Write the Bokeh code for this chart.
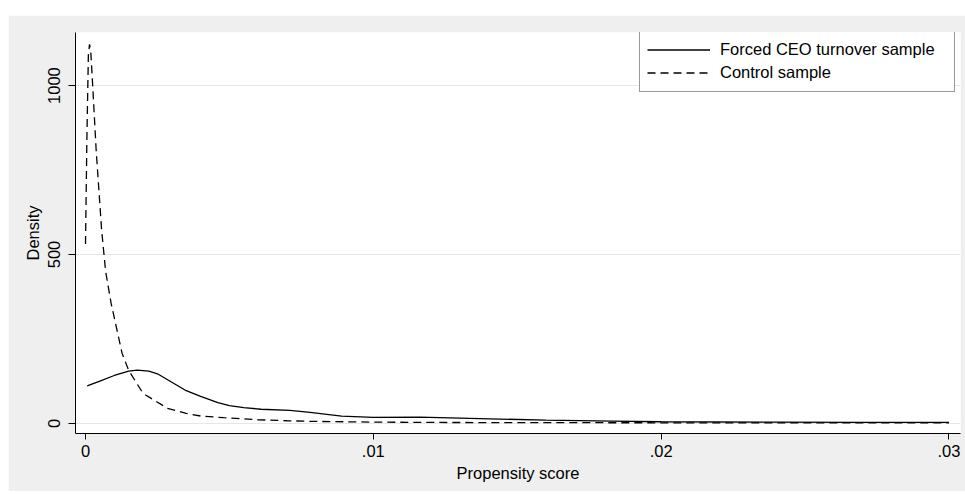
from bokeh.plotting import figure
from bokeh.models import Range1d, FixedTicker, Legend, LegendItem, Spacer
from bokeh.layouts import column, row
from bokeh.embed import file_html
from bokeh.resources import INLINE

# Forced CEO turnover sample (solid)
forced_x = [0.00006, 0.0005, 0.001, 0.0015, 0.0018, 0.0022, 0.0025, 0.003, 0.0035, 0.004,
            0.0046, 0.005, 0.0055, 0.0061, 0.0071, 0.0078, 0.0089, 0.01, 0.0116, 0.013,
            0.0144, 0.016, 0.0183, 0.02, 0.024, 0.027, 0.03]
forced_y = [111, 125, 142, 155, 158, 155, 147, 122, 97, 80,
            62, 53, 47, 42, 39, 33, 22, 18, 19, 16,
            13, 10, 7, 5, 4, 3, 3]

# Control sample (dashed)
control_x = [0.0, 0.00005, 0.0001, 0.00014, 0.00018, 0.00025, 0.00037, 0.00056, 0.0007, 0.00089,
             0.00127, 0.0015, 0.002, 0.00285, 0.0035, 0.004, 0.0048, 0.006, 0.007, 0.008,
             0.01, 0.012, 0.015, 0.02, 0.025, 0.03]
control_y = [531, 850, 1090, 1122, 1105, 1000, 810, 573, 450, 356,
             208, 157, 89, 45, 30, 22, 17, 11, 8, 6,
             4, 3, 2.5, 2, 1.5, 1.5]

x_ticks = [0, 0.01, 0.02, 0.03]
x_tick_labels = ["0", ".01", ".02", ".03"]
y_ticks = [0, 500, 1000]
y_tick_labels = ["0", "500", "1000"]

FONT = "Liberation Sans"
FS = "16.5px"
BG = "#efefef"

p = figure(width=957, height=476, output_backend="svg", toolbar_location=None,
           x_range=Range1d(-0.000347, 0.0304), y_range=Range1d(-29.7, 1157),
           min_border_left=67, min_border_top=17, min_border_right=5, min_border_bottom=58)
p.background_fill_color = "white"
p.border_fill_color = BG
p.outline_line_color = None

l1 = p.line(forced_x, forced_y, line_color="black", line_width=1.3)
l2 = p.line(control_x, control_y, line_color="black", line_width=1.3, line_dash="8 5")

p.xaxis.ticker = FixedTicker(ticks=x_ticks)
p.xaxis.major_label_overrides = {t: s for t, s in zip(x_ticks, x_tick_labels)}
p.yaxis.ticker = FixedTicker(ticks=y_ticks)
p.yaxis.major_label_overrides = {t: s for t, s in zip(y_ticks, y_tick_labels)}
p.yaxis.major_label_orientation = "vertical"

for ax in (p.xaxis[0], p.yaxis[0]):
    ax.axis_line_color = "black"
    ax.axis_line_width = 1
    ax.major_tick_line_color = "black"
    ax.major_tick_in = 0
    ax.major_tick_out = 6
    ax.minor_tick_line_color = None
    ax.major_label_text_font = FONT
    ax.major_label_text_font_size = FS
    ax.major_label_text_color = "black"
    ax.axis_label_text_font = FONT
    ax.axis_label_text_font_size = FS
    ax.axis_label_text_font_style = "normal"
    ax.axis_label_text_color = "black"

p.yaxis.major_tick_out = 7
p.xaxis.axis_label = "Propensity score"
p.yaxis.axis_label = "Density"
p.xaxis.major_label_standoff = 5
p.xaxis.axis_label_standoff = 4
p.yaxis.major_label_standoff = 8
p.yaxis.axis_label_standoff = 4

p.xgrid.grid_line_color = None
p.ygrid.grid_line_color = "#e6e6e6"
p.ygrid.grid_line_width = 1

legend = Legend(items=[LegendItem(label="Forced CEO turnover sample", renderers=[l1]),
                       LegendItem(label="Control sample", renderers=[l2])],
                location=(564, 341))
legend.border_line_color = "#333333"
legend.border_line_width = 1
legend.background_fill_color = "white"
legend.background_fill_alpha = 1
legend.label_text_font = FONT
legend.label_text_font_size = FS
legend.label_text_color = "black"
legend.glyph_width = 63
legend.glyph_height = 23
legend.label_height = 23
legend.label_width = 227
legend.label_standoff = 10
legend.padding = 7
legend.spacing = 0
legend.margin = 0
p.add_layout(legend, "center")

layout = column(Spacer(width=965, height=15), row(Spacer(width=8, height=476), p))

open("out.html", "w").write(file_html(layout, INLINE))
